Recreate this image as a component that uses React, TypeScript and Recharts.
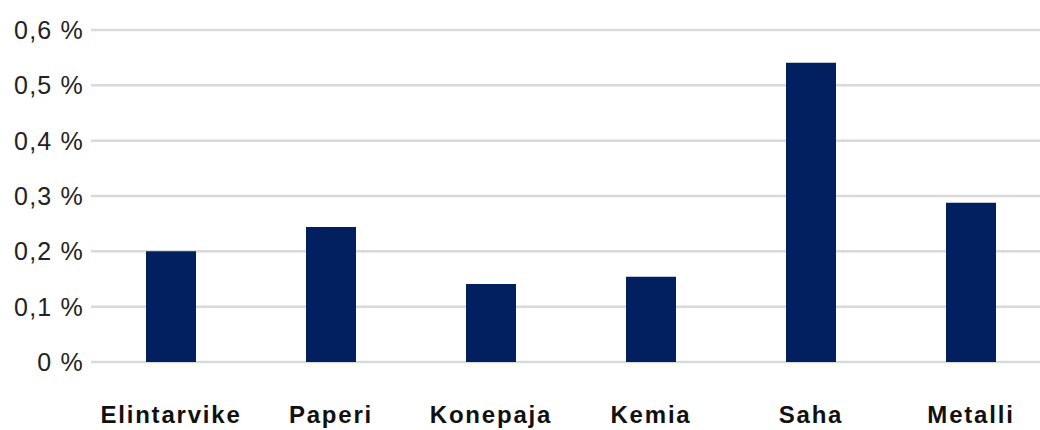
import { BarChart, Bar, XAxis, YAxis, CartesianGrid } from 'recharts';

const categories = ['Elintarvike', 'Paperi', 'Konepaja', 'Kemia', 'Saha', 'Metalli'];
const shares = [0.2, 0.244, 0.141, 0.154, 0.541, 0.288];
const yTicks = [0, 0.1, 0.2, 0.3, 0.4, 0.5, 0.6];

const FONT = '"Liberation Sans", Arial, sans-serif';
const NAVY = '#022060';

function formatPercent(v: number): string {
  if (v === 0) return '0 %';
  return v.toFixed(1).replace('.', ',') + ' %';
}

export default function App() {
  const data = categories.map((name, i) => ({ name, value: shares[i] }));

  // plot runs a bit past the right edge in the original, so clip it
  return (
    <div
      style={{
        position: 'absolute',
        left: 0,
        top: 0,
        width: 1040,
        height: 430,
        overflow: 'hidden',
        background: '#fff',
      }}
    >
      <BarChart
        width={1051}
        height={430}
        data={data}
        margin={{ top: 30, right: 0, left: 0, bottom: 0 }}
      >
        <CartesianGrid vertical={false} stroke="#d9d9d9" strokeWidth={2.5} />
        <XAxis
          dataKey="name"
          axisLine={false}
          tickLine={false}
          tickSize={0}
          tickMargin={44}
          height={68}
          interval={0}
          tick={{ fontSize: 24, fontWeight: 'bold', fill: '#111', fontFamily: FONT, letterSpacing: 1.8 }}
        />
        <YAxis
          type="number"
          domain={[0, 0.6]}
          ticks={yTicks}
          width={91}
          axisLine={false}
          tickLine={false}
          tickSize={0}
          tickMargin={7}
          tickFormatter={formatPercent}
          tick={{ fontSize: 25, fill: '#222', fontFamily: FONT, letterSpacing: 1.2 }}
        />
        <Bar dataKey="value" fill={NAVY} barSize={50} isAnimationActive={false} />
      </BarChart>
    </div>
  );
}
